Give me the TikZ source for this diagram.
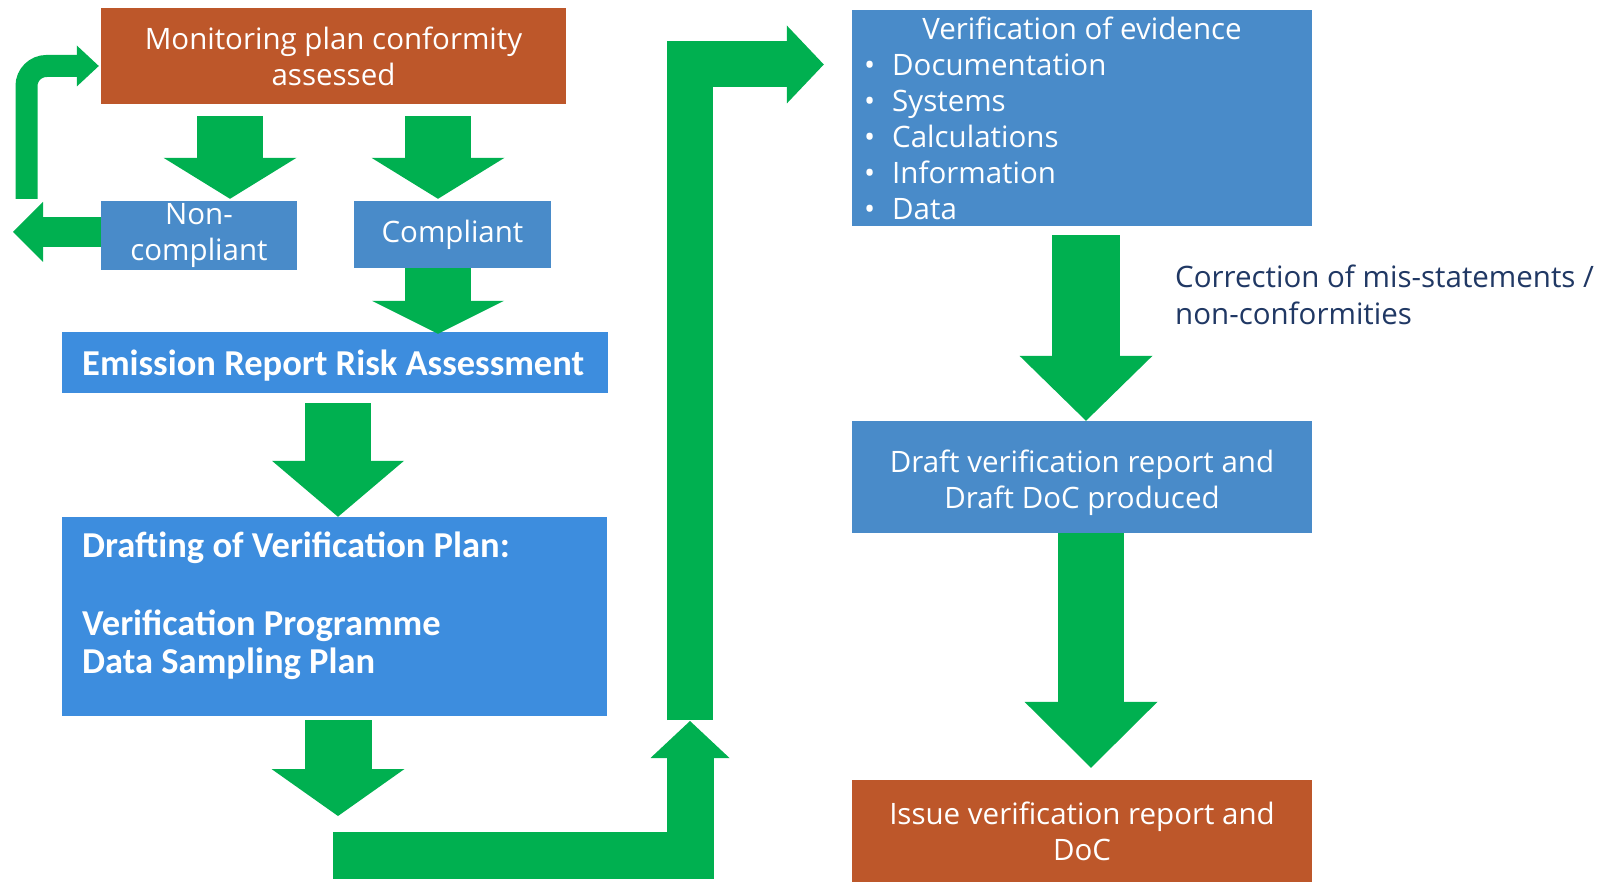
\documentclass[tikz,border=0pt]{standalone}
\usepackage{fontspec}
\setmainfont{Open Sans}
\newfontfamily\calbfont{Carlito}
\usetikzlibrary{arrows.meta}
\definecolor{orgbox}{RGB}{189,87,42}
\definecolor{bluea}{RGB}{73,139,201}
\definecolor{blueb}{RGB}{61,141,222}
\definecolor{grn}{RGB}{0,176,80}
\definecolor{navy}{RGB}{32,56,100}
\begin{document}
\begin{tikzpicture}[x=1pt,y=-1pt,line join=miter,
  segtext/.style={font=\fontsize{29.5}{36}\selectfont},
  boxst/.style={fill=#1, draw=none, inner sep=0pt, text=white, align=center, segtext},
  boldtext/.style={font=\calbfont\bfseries\fontsize{36.5}{38.5}\selectfont, text=white, inner sep=0pt, anchor=base west},
  itemtext/.style={segtext, text=white, inner sep=0pt, anchor=base west},
  lbltext/.style={segtext, text=navy, inner sep=0pt, anchor=base west},
  garrow/.style args={#1/#2/#3}{draw=grn, line width=#1pt, -{Triangle[width=#2pt, length=#3pt, line width=0pt]}},
]
\useasboundingbox[fill=white] (0,0) rectangle (1598,882);

% boxes
\node[boxst=orgbox, minimum width=465pt, minimum height=96pt] (monitor) at (333.5,56) {Monitoring plan conformity\\assessed};
\node[boxst=bluea, minimum width=196pt, minimum height=69pt] (nc) at (199,235.5) {Non-\\compliant};
\node[boxst=bluea, minimum width=197pt, minimum height=67pt] (comp) at (452.5,234.5) {Compliant};
\node[boxst=blueb, minimum width=546pt, minimum height=61pt] (emis) at (335,362.5) {};
\node[boldtext] (emistext) at (82,376) {Emission Report Risk Assessment};
\node[boxst=blueb, minimum width=545pt, minimum height=199pt] (plan) at (334.5,616.5) {};
\node[boldtext] (plan1) at (82,557) {Drafting of Verification Plan:};
\node[boldtext] (plan2) at (82,635) {Verification Programme};
\node[boldtext] (plan3) at (82,673) {Data Sampling Plan};

\node[boxst=bluea, minimum width=460pt, minimum height=216pt] (evid) at (1082,118) {};
\node[segtext, text=white, inner sep=0pt, anchor=base] (evidtitle) at (1082,40) {Verification of evidence};
\node[itemtext] (ev1) at (892,76) {\llap{\textbullet\hspace{17pt}}Documentation};
\node[itemtext] (ev2) at (892,112) {\llap{\textbullet\hspace{17pt}}Systems};
\node[itemtext] (ev3) at (892,148) {\llap{\textbullet\hspace{17pt}}Calculations};
\node[itemtext] (ev4) at (892,184) {\llap{\textbullet\hspace{17pt}}Information};
\node[itemtext] (ev5) at (892,220) {\llap{\textbullet\hspace{17pt}}Data};

\node[lbltext] (corr1) at (1175,288) {Correction of mis-statements /};
\node[lbltext] (corr2) at (1175,325) {non-conformities};

\node[boxst=bluea, minimum width=460pt, minimum height=112pt] (dver) at (1082,477) {};
\node[segtext, text=white, align=center, inner sep=0pt] (dvertext) at ([yshift=-6pt]dver.center) {Draft verification report and\\Draft DoC produced};
\node[boxst=orgbox, minimum width=460pt, minimum height=102pt] (issue) at (1082,831) {Issue verification report and\\DoC};

% free ends
\coordinate (a5end) at (338,816);
\coordinate (lstart) at (333,855.5);
\coordinate (lcorner) at (690,855.5);
\coordinate (ltip) at (690,721);
\coordinate (upstart) at (690,720);
\coordinate (leftend) at (13,232);
\coordinate (loopstart) at (26.5,199);

% connectors
\draw[garrow=66/133/41] ([xshift=-103.5pt,yshift=-12pt]monitor.south) -- ([xshift=31pt,yshift=2pt]nc.north);
\draw[garrow=66/133/41] ([xshift=104.5pt,yshift=-12pt]monitor.south) -- ([xshift=-14.5pt,yshift=2pt]comp.north);
\draw[garrow=66/132/33] ([xshift=-14.5pt]comp.south) -- ([xshift=103pt,yshift=-2pt]emis.north);
\draw[garrow=66/132/56] ([xshift=3pt,yshift=-10pt]emis.south) -- ([xshift=3.5pt]plan.north);
\draw[garrow=67/133/47] ([xshift=3.5pt,yshift=-4pt]plan.south) -- (a5end);
\draw[garrow=47/79/37] (lstart) -- (lcorner) -- (ltip);
\draw[garrow=46/78/37] (upstart) |- ([xshift=-28pt,yshift=53.5pt]evid.west);
\draw[garrow=68/133/65] ([xshift=4pt,yshift=-9pt]evid.south) -- ([xshift=4pt]dver.north);
\draw[garrow=66/133/66] ([xshift=9pt]dver.south) -- ([xshift=9pt,yshift=12pt]issue.north);
\draw[garrow=30/60/30] ([yshift=3.5pt]nc.west) -- (leftend);
\draw[garrow=22/41/22, rounded corners=20pt] (loopstart) |- ([xshift=-2pt,yshift=-10pt]monitor.west);
\end{tikzpicture}
\end{document}
